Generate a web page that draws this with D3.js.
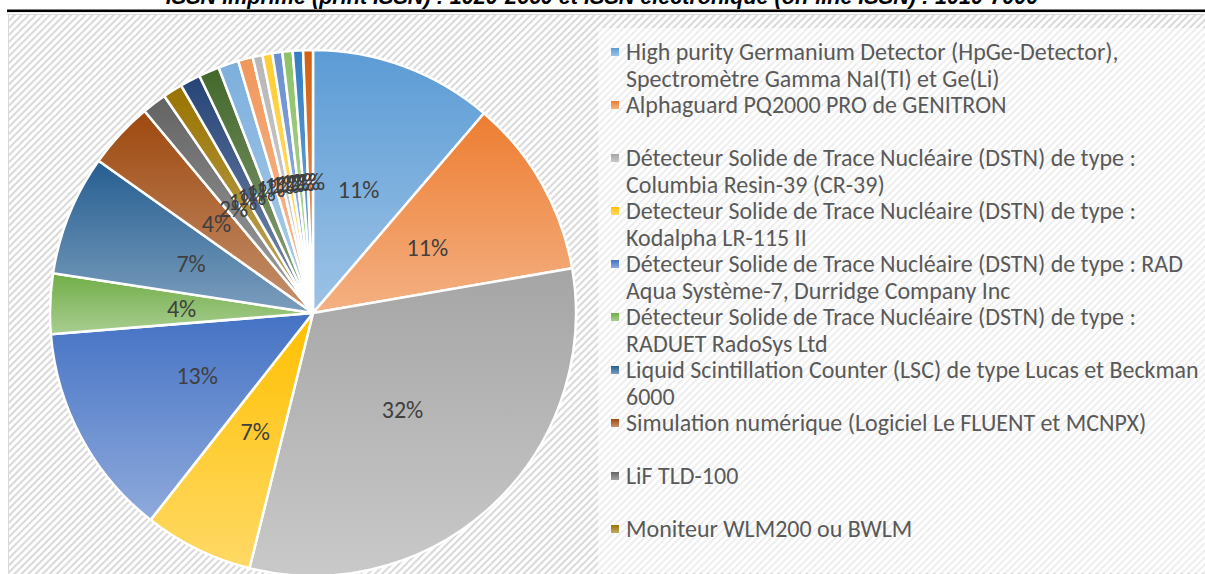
<!DOCTYPE html>
<html>
<head>
<meta charset="utf-8">
<script src="https://cdn.jsdelivr.net/npm/d3@7"></script>
<style>
  body { margin: 0; background: #fff; }
  svg { display: block; }
</style>
</head>
<body>
<svg width="1205" height="574"></svg>
<script>
// header line of the journal page (cut at the top)
const headerText = 'ISSN imprimé (print ISSN) : 1020-2660 et ISSN électronique (on-line ISSN) : 1010-7000'

// legend names (only the first 10 show in the legend, the rest is cut off)
const methods = [
  'High purity Germanium Detector (HpGe-Detector),\nSpectromètre Gamma NaI(TI) et Ge(Li)',
  'Alphaguard PQ2000 PRO de GENITRON',
  'Détecteur Solide de Trace Nucléaire (DSTN) de type :\nColumbia Resin-39 (CR-39)',
  'Detecteur Solide de Trace Nucléaire (DSTN) de type :\nKodalpha LR-115 II',
  'Détecteur Solide de Trace Nucléaire (DSTN) de type : RAD\nAqua Système-7, Durridge Company Inc',
  'Détecteur Solide de Trace Nucléaire (DSTN) de type :\nRADUET RadoSys Ltd',
  'Liquid Scintillation Counter (LSC) de type Lucas et Beckman\n6000',
  'Simulation numérique (Logiciel Le FLUENT et MCNPX)',
  'LiF TLD-100',
  'Moniteur WLM200 ou BWLM'
]
// share of each method (%)
const shares = [11.25, 11.0, 31.55, 6.7, 13.1, 3.7, 7.4, 4.1, 1.5, 1.2]
// the small slices after "Moniteur WLM200", not named in the visible legend
const otherShares = [1.25, 1.27, 1.25, 0.9, 0.6, 0.61, 0.61, 0.63, 0.63, 0.6]

// office palette, in slice order
const palette = [
  '#5B9BD5', '#ED7D31', '#A5A5A5', '#FFC000', '#4472C4', '#70AD47',
  '#255E91', '#9E480E', '#636363', '#997300', '#264478', '#43682B',
  '#7CAFDD', '#F1975A', '#B7B7B7', '#FFCD33', '#698ED0', '#8CC168',
  '#327DC2', '#D26012'
]

const Width = 1205
const Height = 574
const svg = d3.select('svg')
const defs = svg.append('defs')

// hatched background
const pat = defs.append('pattern').attr('id', 'hatch')
  .attr('patternUnits', 'userSpaceOnUse').attr('width', 5).attr('height', 5)
  .attr('patternTransform', 'rotate(45)')
pat.append('rect').attr('width', 5).attr('height', 5).attr('fill', '#fff')
pat.append('rect').attr('width', 2).attr('height', 5).attr('fill', '#d9d9d9')

svg.append('rect').attr('x', 8.5).attr('y', 14.5).attr('width', Width).attr('height', Height)
  .attr('fill', 'url(#hatch)').attr('stroke', '#d9d9d9')

// header
const head = svg.append('text').attr('x', 602).attr('y', 3.5)
  .attr('text-anchor', 'middle')
  .style('font-family', '"Liberation Sans", Arial, sans-serif')
  .style('font-weight', 'bold').style('font-style', 'italic')
  .style('font-size', '17px').text(headerText)
let hw = head.node().getComputedTextLength()
head.style('font-size', (17 * 873 / hw) + 'px')
svg.append('rect').attr('x', 7).attr('y', 9.5).attr('width', Width).attr('height', 2.6).attr('fill', '#000')

// data table
const data = shares.concat(otherShares).map((v, i) => ({ i: i, value: v, name: methods[i] || ('autre ' + (i + 1)) }))
const total = d3.sum(data, d => d.value)

palette.forEach((c, i) => {
  const g = defs.append('linearGradient').attr('id', 'grad' + i)
    .attr('x1', 0).attr('y1', 0).attr('x2', 0).attr('y2', 1)
  g.append('stop').attr('offset', '0%').attr('stop-color', c)
  g.append('stop').attr('offset', '100%').attr('stop-color', d3.interpolateRgb(c, '#fff')(0.4))
})

// pie
const cx = 313, cy = 313, R = 263
const pie = d3.pie().value(d => d.value).sort(null)
const arc = d3.arc().innerRadius(0).outerRadius(R)
const labelArc = d3.arc().innerRadius(R * 0.5).outerRadius(R * 0.5)
const arcs = pie(data)

const g = svg.append('g').attr('transform', `translate(${cx},${cy})`)
g.selectAll('path').data(arcs).enter().append('path')
  .attr('d', arc)
  .attr('fill', d => 'url(#grad' + d.data.i + ')')
  .attr('stroke', '#fff').attr('stroke-width', 2.5).attr('stroke-linejoin', 'round')

g.selectAll('text.lab').data(arcs).enter().append('text')
  .attr('class', 'lab')
  .attr('transform', d => `translate(${labelArc.centroid(d)})`)
  .attr('text-anchor', 'middle').attr('dy', '0.35em')
  .style('font-family', 'Carlito, Calibri, Lato, sans-serif')
  .style('font-size', '24px').attr('fill', '#404040')
  .text(d => Math.round(d.data.value / total * 100) + '%')

// legend
const lg = svg.append('g')
lg.append('rect').attr('x', 598).attr('y', 28).attr('width', 610).attr('height', 545)
  .attr('fill', '#fff').attr('opacity', 0.55)
const slot = 53, lineH = 26.5, ly0 = 52
const items = lg.selectAll('g.item').data(methods).enter().append('g')
  .attr('class', 'item')
  .attr('transform', (d, i) => `translate(0,${ly0 + i * slot})`)
items.append('rect').attr('x', 611).attr('y', -4).attr('width', 8).attr('height', 8)
  .attr('fill', (d, i) => 'url(#grad' + i + ')')
const txt = items.append('text').attr('x', 626)
  .style('font-family', 'Carlito, Calibri, Lato, sans-serif')
  .style('font-size', '20px').attr('fill', '#595959')
txt.selectAll('tspan').data(d => d.split('\n')).enter().append('tspan')
  .attr('x', 626).attr('y', (d, j) => j * lineH).attr('dy', '0.35em').text(d => d)
// fit the longest line to the width seen in the reference
let longest = 0
lg.selectAll('tspan').each(function () { longest = Math.max(longest, this.getComputedTextLength()) })
txt.style('font-size', (20 * 573 / longest) + 'px')
</script>
</body>
</html>
